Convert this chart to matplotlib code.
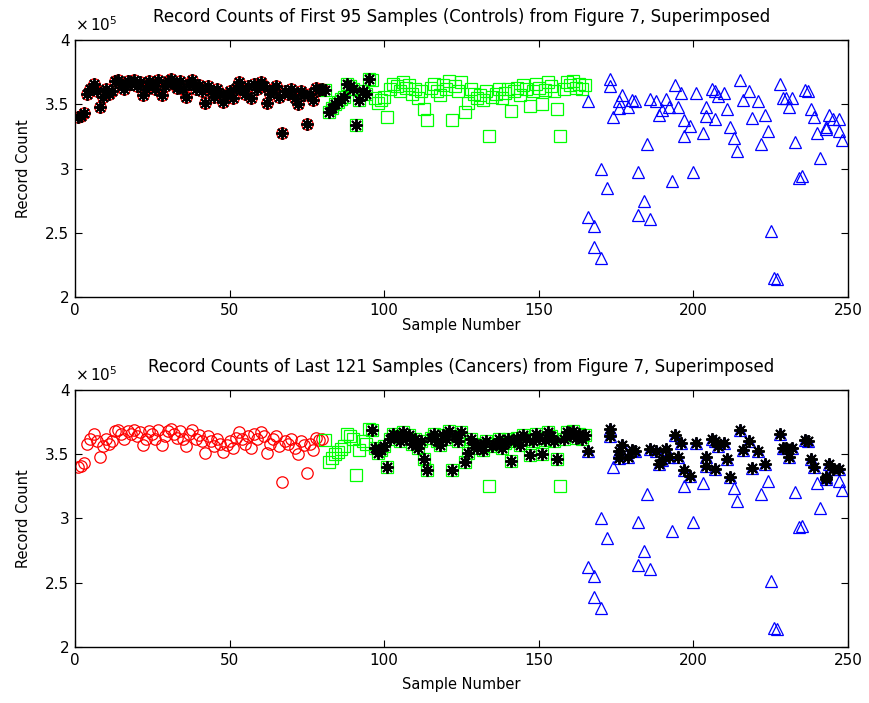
import numpy as np
import matplotlib
matplotlib.use("Agg")
import matplotlib.pyplot as plt
from matplotlib.ticker import FuncFormatter

plt.rcParams['font.family'] = ['DejaVu Sans']

# record counts, in units of 1e5
red = [3.40, 3.41, 3.43, 3.58, 3.62, 3.66, 3.60, 3.48, 3.56, 3.62,
       3.58, 3.60, 3.68, 3.69, 3.66, 3.62, 3.68, 3.66, 3.69, 3.64,
       3.67, 3.57, 3.62, 3.68, 3.66, 3.62, 3.69, 3.57, 3.64, 3.68,
       3.70, 3.66, 3.63, 3.68, 3.62, 3.56, 3.66, 3.69, 3.62, 3.65,
       3.60, 3.51, 3.64, 3.60, 3.56, 3.62, 3.58, 3.52, 3.57, 3.60,
       3.55, 3.63, 3.67, 3.62, 3.58, 3.64, 3.55, 3.66, 3.62, 3.67,
       3.64, 3.51, 3.58, 3.62, 3.64, 3.56, 3.28, 3.60, 3.58, 3.62,
       3.55, 3.50, 3.60, 3.57, 3.35, 3.58, 3.53, 3.63, 3.61, 3.62]

green = [3.61, 3.44, 3.47, 3.50, 3.52, 3.54, 3.56, 3.66, 3.64, 3.62,
         3.34, 3.53, 3.60, 3.58, 3.70, 3.69, 3.55, 3.51, 3.53, 3.56,
         3.40, 3.62, 3.66, 3.64, 3.60, 3.67, 3.63, 3.65, 3.58, 3.62,
         3.55, 3.60, 3.46, 3.38, 3.63, 3.66, 3.60, 3.57, 3.65, 3.62,
         3.68, 3.38, 3.64, 3.60, 3.67, 3.44, 3.51, 3.62, 3.58, 3.55,
         3.57, 3.53, 3.60, 3.25, 3.56, 3.58, 3.62, 3.55, 3.59, 3.62,
         3.45, 3.60, 3.63, 3.57, 3.65, 3.62, 3.49, 3.60, 3.66, 3.63,
         3.50, 3.61, 3.67, 3.64, 3.60, 3.46, 3.25, 3.62, 3.67, 3.65,
         3.68, 3.63, 3.66, 3.62, 3.65]

blue_x = [166, 166, 168, 168, 170, 170, 172, 173, 173, 174,
          176, 176, 177, 179, 180, 181, 182, 182, 184, 185,
          186, 186, 188, 189, 190, 191, 192, 193, 194, 195,
          196, 197, 197, 199, 200, 201, 203, 204, 204, 206,
          207, 207, 208, 210, 211, 212, 213, 214, 215, 216,
          218, 219, 221, 222, 223, 224, 225, 226, 227, 228,
          229, 230, 231, 232, 233, 234, 235, 236, 237, 238,
          239, 240, 241, 243, 243, 244, 245, 247, 247, 248]
blue = [3.525, 2.625, 2.55, 2.39, 2.305, 3.00, 2.845, 3.70, 3.645, 3.40,
        3.525, 3.47, 3.57, 3.48, 3.53, 3.525, 2.97, 2.64, 2.75, 3.19,
        2.61, 3.54, 3.525, 3.42, 3.455, 3.54, 3.475, 2.90, 3.65, 3.475,
        3.59, 3.38, 3.25, 3.33, 2.975, 3.59, 3.275, 3.475, 3.41, 3.62,
        3.385, 3.60, 3.565, 3.585, 3.46, 3.325, 3.235, 3.135, 3.69, 3.53,
        3.60, 3.39, 3.525, 3.19, 3.42, 3.29, 2.515, 2.15, 2.14, 3.66,
        3.55, 3.55, 3.48, 3.55, 3.205, 2.93, 2.945, 3.61, 3.60, 3.46,
        3.40, 3.275, 3.08, 3.31, 3.32, 3.42, 3.385, 3.385, 3.29, 3.22]
# 1 = cancer sample among the blue points
blue_cancer = [1, 0, 0, 0, 0, 0, 0, 1, 1, 0,
               1, 1, 1, 1, 1, 1, 0, 0, 0, 0,
               0, 1, 1, 1, 1, 1, 1, 0, 1, 1,
               1, 1, 0, 1, 0, 1, 0, 1, 1, 1,
               1, 1, 1, 1, 1, 1, 0, 0, 1, 1,
               1, 1, 1, 0, 1, 0, 0, 0, 0, 1,
               1, 1, 1, 1, 0, 0, 0, 1, 1, 1,
               1, 0, 0, 1, 1, 1, 1, 1, 0, 0]

red_x = np.arange(1, len(red) + 1)
green_x = np.arange(81, 81 + len(green))
n_controls = 95
green_noncancer = [134, 157]

all_x = np.concatenate([red_x, green_x])
all_y = np.concatenate([red, green])
ctrl_x = all_x[:n_controls]
ctrl_y = all_y[:n_controls]

canc_mask = (green_x > n_controls) & ~np.isin(green_x, green_noncancer)
bc = np.array(blue_cancer, dtype=bool)
canc_x = np.concatenate([green_x[canc_mask], np.array(blue_x)[bc]])
canc_y = np.concatenate([np.array(green)[canc_mask], np.array(blue)[bc]])

titles = ['Record Counts of First 95 Samples (Controls) from Figure 7, Superimposed',
          'Record Counts of Last 121 Samples (Cancers) from Figure 7, Superimposed']

fig = plt.figure(figsize=(8.7, 7.03), dpi=100)
ax1 = fig.add_axes([0.0862, 0.5775, 0.8885, 0.3656])
ax2 = fig.add_axes([0.0862, 0.0797, 0.8885, 0.3656])

ms = 8.2
for ax, title, sx, sy, lp in [(ax1, titles[0], ctrl_x, ctrl_y, 0),
                              (ax2, titles[1], canc_x, canc_y, 7)]:
    ax.plot(red_x, red, 'o', mfc='none', mec=(1, 0, 0), ms=ms, mew=0.9)
    ax.plot(green_x, green, 's', mfc='none', mec=(0, 1, 0), ms=ms, mew=0.9)
    ax.plot(blue_x, blue, '^', mfc='none', mec=(0, 0, 1), ms=ms, mew=0.9)
    ax.plot(sx, sy, marker=(8, 2, 0), ls='none', color='k', ms=9, mew=1.4)
    ax.set_xlim(0, 250)
    ax.set_ylim(2, 4)
    ax.set_xticks([0, 50, 100, 150, 200, 250])
    ax.set_yticks([2, 2.5, 3, 3.5, 4])
    ax.yaxis.set_major_formatter(FuncFormatter(lambda v, p: '%g' % v))
    ax.tick_params(direction='in', top=True, right=True, length=5,
                   width=0.8, labelsize=11, pad=4)
    for s in ax.spines.values():
        s.set_linewidth(1.0)
    ax.set_xlabel('Sample Number', fontsize=10.5, labelpad=lp)
    ax.set_ylabel('Record Count', fontsize=10.5, labelpad=10)
    ax.set_title(title, fontsize=12, pad=13)
    ax.text(0.0, 1.025, r'$\times\,10^{5}$', transform=ax.transAxes,
            fontsize=11, ha='left', va='bottom')

fig.savefig('out.png', dpi=100)
